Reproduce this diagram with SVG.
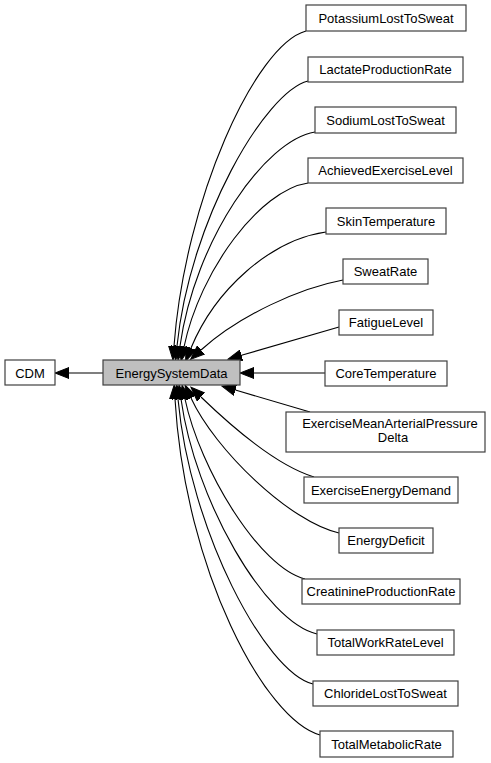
<svg xmlns="http://www.w3.org/2000/svg" width="491" height="763" viewBox="0 0 491 763">
<style>
.box{fill:#ffffff;stroke:#404040;stroke-width:1.2}
.main{fill:#bfbfbf;stroke:#404040;stroke-width:1.2}
.lbl{font-family:"Liberation Sans",Arial,sans-serif;font-size:13px;fill:#000;text-anchor:middle}
.edge{fill:none;stroke:#000;stroke-width:1.1;marker-end:url(#ah)}
</style>
<defs>
<marker id="ah" markerUnits="userSpaceOnUse" markerWidth="15" markerHeight="12" refX="0" refY="6" orient="auto">
<path d="M0,0.5 L14,6 L0,11.5 z" fill="#000" stroke="#000" stroke-width="1"/>
</marker>
</defs>
<rect width="491" height="763" fill="#ffffff"/>
<g id="edges">
<path class="edge" d="M103,373 L69,373"/>
<path class="edge" d="M306,31 C255,45 185,200 174,346"/>
<path class="edge" d="M308,81 C265,92 190,220 177,346"/>
<path class="edge" d="M315,132 C265,140 195,240 180,346"/>
<path class="edge" d="M308,183 C260,190 200,270 184,347"/>
<path class="edge" d="M326,232 C270,240 215,290 191,348"/>
<path class="edge" d="M343,280 C300,288 240,315 201,350"/>
<path class="edge" d="M339,327 L241.5,355.3"/>
<path class="edge" d="M325,373 L254,373"/>
<path class="edge" d="M310,412 L235.4,390"/>
<path class="edge" d="M314,477 C275,465 230,425 201,397"/>
<path class="edge" d="M339,533 C290,522 215,450 191,398"/>
<path class="edge" d="M305,579 C260,568 200,470 185,399"/>
<path class="edge" d="M317,634 C265,622 195,500 181,399"/>
<path class="edge" d="M313,684 C265,672 190,530 178,399"/>
<path class="edge" d="M320,735 C265,720 185,570 175,399"/>
</g>
<g id="CDM"><rect class="box" x="5" y="360" width="50" height="25"/><text class="lbl" x="30" y="377.5">CDM</text></g>
<g id="EnergySystemData"><rect class="main" x="103" y="360" width="137" height="25"/><text class="lbl" x="171.5" y="377.5">EnergySystemData</text></g>
<g id="PotassiumLostToSweat"><rect class="box" x="306" y="5" width="160" height="26"/><text class="lbl" x="386" y="22.5">PotassiumLostToSweat</text></g>
<g id="LactateProductionRate"><rect class="box" x="308" y="57" width="155" height="25"/><text class="lbl" x="385.5" y="74">LactateProductionRate</text></g>
<g id="SodiumLostToSweat"><rect class="box" x="315" y="107" width="141" height="26"/><text class="lbl" x="385.5" y="124.5">SodiumLostToSweat</text></g>
<g id="AchievedExerciseLevel"><rect class="box" x="308" y="158" width="155" height="25"/><text class="lbl" x="385.5" y="175">AchievedExerciseLevel</text></g>
<g id="SkinTemperature"><rect class="box" x="326" y="208" width="120" height="26"/><text class="lbl" x="386" y="225.5">SkinTemperature</text></g>
<g id="SweatRate"><rect class="box" x="343" y="259" width="85" height="25"/><text class="lbl" x="385.5" y="276">SweatRate</text></g>
<g id="FatigueLevel"><rect class="box" x="339" y="310" width="94" height="25"/><text class="lbl" x="386" y="327">FatigueLevel</text></g>
<g id="CoreTemperature"><rect class="box" x="325" y="361" width="122" height="25"/><text class="lbl" x="386" y="378">CoreTemperature</text></g>
<g id="ExerciseMeanArterialPressureDelta"><rect class="box" x="286" y="412" width="199" height="40"/><text class="lbl" x="390" y="428">ExerciseMeanArterialPressure</text><text class="lbl" x="393" y="442">Delta</text></g>
<g id="ExerciseEnergyDemand"><rect class="box" x="304" y="477" width="154" height="26"/><text class="lbl" x="381" y="494.5">ExerciseEnergyDemand</text></g>
<g id="EnergyDeficit"><rect class="box" x="339" y="528" width="94" height="25"/><text class="lbl" x="386" y="545">EnergyDeficit</text></g>
<g id="CreatinineProductionRate"><rect class="box" x="302" y="579" width="158" height="25"/><text class="lbl" x="381" y="596">CreatinineProductionRate</text></g>
<g id="TotalWorkRateLevel"><rect class="box" x="317" y="630" width="137" height="25"/><text class="lbl" x="385.5" y="647">TotalWorkRateLevel</text></g>
<g id="ChlorideLostToSweat"><rect class="box" x="313" y="681" width="145" height="25"/><text class="lbl" x="385.5" y="698">ChlorideLostToSweat</text></g>
<g id="TotalMetabolicRate"><rect class="box" x="320" y="731" width="133" height="26"/><text class="lbl" x="386.5" y="748.5">TotalMetabolicRate</text></g>
</svg>
